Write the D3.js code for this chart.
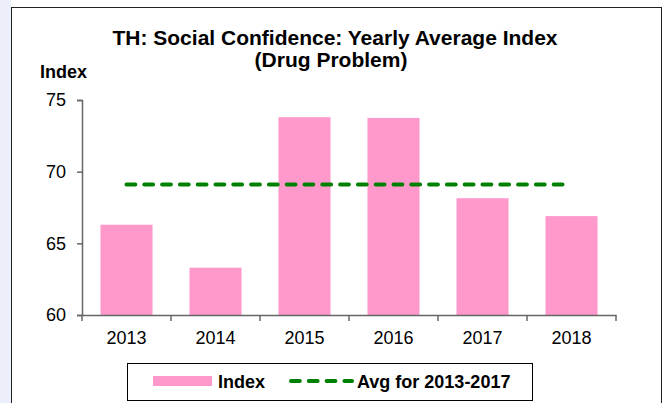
<!DOCTYPE html>
<html>
<head>
<meta charset="utf-8">
<script src="https://cdn.jsdelivr.net/npm/d3@7"></script>
<style>
  body { margin: 0; background: #ffffff; }
  svg { display: block; font-family: "Liberation Sans", Arial, sans-serif; }
</style>
</head>
<body>
<svg id="chart"></svg>
<script>
// data
var years = ['2013', '2014', '2015', '2016', '2017', '2018'];
var index_values = [66.3, 63.3, 73.8, 73.75, 68.15, 66.9];
var avg_values = [69.1, 69.1, 69.1, 69.1, 69.1, 69.1];
var y_ticks = [60, 65, 70, 75];

class BarChart {

    constructor( config ) {
        this.config = {
            parent: config.parent,
            width: config.width || 668,
            height: config.height || 403,
            margin: config.margin || {top:100, right:52, bottom:88, left:82}
        }
        this.init();
    }

    init() {
        let self = this;

        self.svg = d3.select( self.config.parent )
            .attr('width', self.config.width)
            .attr('height', self.config.height);

        // background strip + outer frame
        self.svg.append('rect')
            .attr('x', 0).attr('y', 0)
            .attr('width', 11).attr('height', self.config.height)
            .attr('fill', '#eceff9');
        self.svg.append('rect')
            .attr('x', 11.5).attr('y', 7.5)
            .attr('width', 650).attr('height', 410)
            .attr('fill', 'white')
            .attr('stroke', '#222')
            .attr('stroke-width', 1);

        self.inner_width = self.config.width - self.config.margin.left - self.config.margin.right;
        self.inner_height = self.config.height - self.config.margin.top - self.config.margin.bottom;

        self.chart = self.svg.append('g')
            .attr('transform', `translate(${self.config.margin.left}, ${self.config.margin.top})`);

        self.xscale = d3.scaleBand()
            .domain(years)
            .range([0, self.inner_width])
            .padding(0);

        self.yscale = d3.scaleLinear()
            .domain([60, 75])
            .range([self.inner_height, 0]);

        // title
        self.svg.append('text')
            .attr('x', 335).attr('y', 45)
            .attr('text-anchor', 'middle')
            .attr('font-weight', 'bold')
            .attr('font-size', '21px')
            .text('TH: Social Confidence: Yearly Average Index');
        self.svg.append('text')
            .attr('x', 331).attr('y', 67)
            .attr('text-anchor', 'middle')
            .attr('font-weight', 'bold')
            .attr('font-size', '21px')
            .text('(Drug Problem)');

        self.svg.append('text')
            .attr('x', 40).attr('y', 78)
            .attr('font-weight', 'bold')
            .attr('font-size', '18px')
            .text('Index');
    }

    render() {
        let self = this;
        let bw = self.xscale.bandwidth() * 0.585;

        self.chart.selectAll('.bar')
            .data(index_values)
            .enter()
            .append('rect')
            .attr('class', 'bar')
            .attr('x', (d, i) => self.xscale(years[i]) + (self.xscale.bandwidth() - bw) / 2)
            .attr('y', d => self.yscale(d))
            .attr('width', bw)
            .attr('height', d => self.inner_height - self.yscale(d))
            .attr('fill', '#ff99cc');

        // y axis
        let yaxis = d3.axisLeft(self.yscale)
            .tickValues(y_ticks)
            .tickSize(5)
            .tickPadding(11);
        let yg = self.chart.append('g').call(yaxis);
        yg.select('.domain').attr('stroke', '#666').attr('stroke-width', 1.5);
        yg.selectAll('.tick line').attr('stroke', '#666').attr('stroke-width', 1.5);
        yg.selectAll('text')
            .attr('font-size', '18px')
            .attr('font-family', '"Liberation Sans", Arial, sans-serif')
            .attr('fill', '#000');

        // x axis: ticks between categories
        let xaxis = d3.axisBottom(self.xscale).tickSize(0).tickPadding(16);
        let xg = self.chart.append('g')
            .attr('transform', `translate(0, ${self.inner_height})`)
            .call(xaxis);
        xg.select('.domain').attr('stroke', '#666').attr('stroke-width', 1.5);
        xg.selectAll('text')
            .attr('font-size', '18px')
            .attr('font-family', '"Liberation Sans", Arial, sans-serif')
            .attr('fill', '#000');
        let bounds = years.map(y => self.xscale(y)).concat([self.inner_width]);
        xg.selectAll('.sep')
            .data(bounds)
            .enter()
            .append('line')
            .attr('x1', d => d).attr('x2', d => d)
            .attr('y1', 0).attr('y2', 6)
            .attr('stroke', '#666')
            .attr('stroke-width', 1.5);

        // average line
        const line = d3.line()
            .x((d, i) => self.xscale(years[i]) + self.xscale.bandwidth() / 2)
            .y(d => self.yscale(d));
        self.chart.append('path')
            .datum(avg_values)
            .attr('d', line)
            .attr('fill', 'none')
            .attr('stroke', '#008000')
            .attr('stroke-width', 4)
            .attr('stroke-linecap', 'round')
            .attr('stroke-dasharray', '8.8,9');

        // legend
        let lg = self.svg.append('g');
        lg.append('rect')
            .attr('x', 127.5).attr('y', 363.5)
            .attr('width', 405).attr('height', 37)
            .attr('fill', 'white')
            .attr('stroke', '#000')
            .attr('stroke-width', 1);
        lg.append('rect')
            .attr('x', 153).attr('y', 376)
            .attr('width', 59).attr('height', 10)
            .attr('fill', '#ff99cc');
        lg.append('text')
            .attr('x', 218).attr('y', 388)
            .attr('font-weight', 'bold')
            .attr('font-size', '18px')
            .text('Index');
        lg.append('line')
            .attr('x1', 291).attr('x2', 352)
            .attr('y1', 381).attr('y2', 381)
            .attr('stroke', '#008000')
            .attr('stroke-width', 4)
            .attr('stroke-linecap', 'round')
            .attr('stroke-dasharray', '8.8,9');
        lg.append('text')
            .attr('x', 357).attr('y', 388)
            .attr('font-weight', 'bold')
            .attr('font-size', '18px')
            .text('Avg for 2013-2017');
    }
}

let chart = new BarChart({ parent: '#chart', width: 668, height: 403 });
chart.render();
</script>
</body>
</html>
